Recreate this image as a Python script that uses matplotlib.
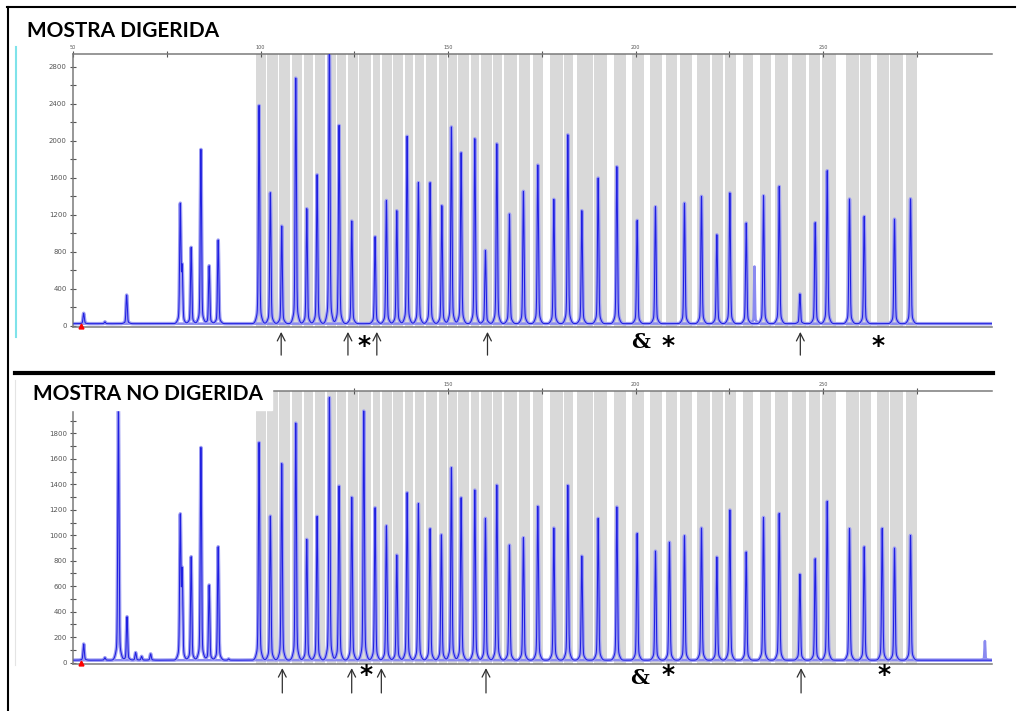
import numpy as np
import matplotlib
matplotlib.use('Agg')
from matplotlib import pyplot as plt
from matplotlib.patches import Rectangle
from matplotlib.lines import Line2D

# Electropherogram peaks: size (bp) and height (RFU)

# digested sample (top panel)
dig_pos = [52.85, 58.5, 64.3, 75.3, 78.6, 79.1, 81.5, 84.1, 86.3, 88.7, 94.8,
           99.60, 102.61, 105.65, 109.39, 112.32, 115.07, 118.35, 120.93, 124.32,
           130.53, 133.55, 136.32, 139.07, 142.08, 145.20, 148.32, 150.88, 153.47,
           157.12, 159.95, 162.99, 166.35, 170.08, 173.92, 178.19, 181.92, 185.65,
           190.00, 194.99, 200.40, 205.28, 213.01, 217.55, 221.65, 225.12, 229.47,
           234.08, 238.27, 243.79, 247.87, 251.07, 257.01, 260.93, 269.01,
           273.28]
dig_rfu = [132, 40, 330, 20, 1293, 600, 846, 1906, 647, 925, 20,
           2382, 1437, 1076, 2678, 1264, 1632, 3100, 2166, 1131,
           961, 1354, 1243, 2047, 1546, 1546, 1297, 2148, 1870,
           2021, 813, 1967, 1206, 1452, 1736, 1365, 2064, 1243,
           1596, 1718, 1138, 1286, 1325, 1398, 982, 1434, 1109,
           1405, 1506, 341, 1113, 1675, 1369, 1181, 1152,
           1372]
# pull-up spikes drawn only in the light colour
dig_pull_pos = [231.68]
dig_pull_rfu = [619]

# undigested sample (bottom panel)
undig_pos = [52.85, 58.5, 62.1, 64.4, 66.7, 68.3, 70.7, 75.3, 78.6, 79.1, 81.5,
             84.1, 86.3, 88.7, 91.5, 94.7,
             99.60, 102.61, 105.65, 109.39, 112.32, 115.07, 118.35, 120.93, 124.32,
             127.52, 130.53, 133.55, 136.32, 139.07, 142.08, 145.20, 148.21, 150.88,
             153.47, 157.12, 159.95, 162.99, 166.35, 170.08, 173.92, 178.19, 181.92,
             185.65, 190.00, 194.99, 200.40, 205.28, 209.01, 213.01, 217.55, 221.65,
             225.12, 229.47, 234.08, 238.27, 243.79, 247.87, 251.07, 257.01, 260.93,
             265.73, 269.01, 273.28]
undig_rfu = [147, 40, 1990, 361, 80, 50, 70, 20, 1133, 690, 832,
             1690, 610, 910, 30, 20,
             1729, 1151, 1562, 1881, 968, 1149, 2080, 1387, 1298,
             1975, 1216, 1075, 845, 1334, 1248, 1052, 1005, 1530,
             1295, 1355, 1133, 1394, 923, 981, 1227, 1057, 1392,
             837, 1133, 1222, 1015, 876, 945, 997, 1057, 829,
             1198, 869, 1141, 1172, 694, 816, 1266, 1052, 910,
             1054, 900, 1000]
undig_pull_pos = [293.1]
undig_pull_rfu = [150]

# grey bins (same in both panels), bp
bin_left = [98.7, 101.8, 104.9, 108.5, 111.6, 114.5, 117.7, 120.3, 123.3, 126.3,
            130.1, 132.3, 135.4, 138.5, 141.2, 144.1, 147.6, 150.1, 152.7, 156.2,
            158.7, 162.1, 165.0, 168.9, 172.6, 177.2, 180.9, 184.3, 188.9, 194.1,
            199.0, 203.7, 208.1, 211.7, 216.3, 220.4, 223.9, 228.6, 233.2, 237.2,
            241.7, 246.3, 249.6, 256.0, 259.8, 264.3, 267.9, 272.1]
bin_right = [101.5, 104.7, 107.9, 111.1, 114.0, 117.3, 120.1, 122.8, 125.9, 129.5,
             131.9, 135.0, 138.1, 140.7, 143.7, 147.0, 149.7, 152.5, 155.7, 158.3,
             161.7, 164.5, 168.3, 171.9, 175.4, 180.5, 183.4, 188.7, 192.3, 197.4,
             202.3, 207.0, 211.1, 215.0, 219.9, 223.4, 226.8, 231.3, 236.1, 240.5,
             245.3, 249.2, 253.3, 259.5, 262.7, 267.5, 271.2, 275.0]

# marks under each trace (bp)
dig_arrows = [105.5, 123.3, 131.0, 160.5, 243.9]
dig_stars = [127.6, 208.7, 264.6]
dig_amp = [201.2]
undig_arrows = [105.8, 124.3, 132.2, 160.1, 244.1]
undig_stars = [128.1, 208.7, 266.1]
undig_amp = [201.0]

size_ticks = [50, 100, 150, 200, 250]
dig_size_labels = ['50', '100', '150', '200', '250']
undig_size_labels = ['', '', '150', '200', '250']  # first two sit under the title box

W, H = 1022, 711
BASE = 20.0


def fx(px):
    return px / W


def fy(py):
    return 1 - py / H


size = np.linspace(50.2, 295, 16000)


def trace(pos, rfu, base=BASE, core=0.16):
    y = np.full_like(size, base)
    for p, h in zip(pos, rfu):
        d = size - p
        a = max(h - base, 0)
        y += a * (0.93 * np.exp(-0.5 * (d / core) ** 2) + 0.07 * np.exp(-0.5 * (d / 0.55) ** 2))
    return y


def panel(rect, pos, rfu, pull_pos, pull_rfu, labels, ylim, major, minor):
    ax = fig.add_axes(rect)
    ax.set_xlim(50, 295)
    ax.set_ylim(*ylim)
    for l, r in zip(bin_left, bin_right):
        ax.axvspan(l, r, color='#d9d9d9', lw=0, zorder=0)
    y = trace(pos, rfu)
    yp = trace(pull_pos, pull_rfu, base=0, core=0.1) + BASE
    ax.plot(size, yp, color='#8a8af0', lw=1.8, zorder=2)
    ax.plot(size, y, color='#9d9df2', lw=2.5, zorder=2)
    ax.plot(size, y, color='#2020e0', lw=0.75, zorder=3)
    ax.plot([52.2], [0], marker='^', color='red', ms=3.5, zorder=4, clip_on=False)
    for s in ['top', 'bottom', 'left']:
        ax.spines[s].set_color('#7a7a7a')
        ax.spines[s].set_linewidth(1.1)
    ax.spines['right'].set_visible(False)
    ax.xaxis.tick_top()
    ax.set_xticks(size_ticks)
    ax.set_xticklabels(labels)
    ax.set_xticks(np.arange(75, 290, 50), minor=True)
    ax.tick_params(axis='x', which='both', direction='inout', length=4, width=0.8,
                   color='#555555', labelsize=3.5, labelcolor='#555555', pad=1)
    ax.set_yticks(np.arange(0, ylim[1], major))
    ax.set_yticks(np.arange(0, ylim[1], minor), minor=True)
    ax.tick_params(axis='y', which='both', direction='inout', length=5, width=0.8,
                   color='#555555', labelsize=5, labelcolor='#555555', pad=2)
    return ax


def marks(ax, arrows, stars, amp, ya, ys, yamp):
    tr = ax.get_xaxis_transform()
    for p in arrows:
        ax.annotate('', xy=(p, ya[0]), xytext=(p, ya[1]), xycoords=tr, textcoords=tr,
                    arrowprops=dict(arrowstyle='->,head_length=0.55,head_width=0.28',
                                    lw=0.9, color='#303030', shrinkA=0, shrinkB=0),
                    annotation_clip=False)
    for p in stars:
        ax.text(p, ys, '*', transform=tr, ha='center', va='center', fontsize=18,
                fontweight='bold', clip_on=False)
    for p in amp:
        ax.text(p, yamp, '&', transform=tr, ha='center', va='center', fontsize=15,
                fontweight='heavy', family='DejaVu Serif', clip_on=False)


fig = plt.figure(figsize=(W / 100, H / 100), dpi=100)

ax1 = panel([fx(73), fy(327), fx(992) - fx(73), fy(54) - fy(327)],
            dig_pos, dig_rfu, dig_pull_pos, dig_pull_rfu, dig_size_labels,
            (-16, 2937), 400, 200)
marks(ax1, dig_arrows, dig_stars, dig_amp, (-0.018, -0.103), -0.07, -0.055)

ax2 = panel([fx(73), fy(664), fx(992) - fx(73), fy(390.7) - fy(664)],
            undig_pos, undig_rfu, undig_pull_pos, undig_pull_rfu, undig_size_labels,
            (-10, 2134), 200, 100)
marks(ax2, undig_arrows, undig_stars, undig_amp, (-0.015, -0.106), -0.04, -0.05)

# frame and separators
lines = [((8, 8), (7, 711), 'black', 1.5),
         ((7, 1015), (7, 7), 'black', 1.5),
         ((15, 993), (373, 373), 'black', 3.0),
         ((16, 16), (47, 337), '#7fe3ea', 1.5),
         ((15, 15), (380, 665), '#e4e4e4', 0.8)]
for xs, ys, c, lw in lines:
    fig.add_artist(Line2D([fx(xs[0]), fx(xs[1])], [fy(ys[0]), fy(ys[1])],
                          color=c, lw=lw, transform=fig.transFigure))

fig.add_artist(Rectangle((fx(28), fy(410)), fx(272) - fx(28), fy(383) - fy(410),
                         transform=fig.transFigure, color='white', zorder=5))

fig.text(fx(27), fy(36.7), 'MOSTRA DIGERIDA', family='Lato', fontweight='bold',
         fontsize=15, va='baseline', ha='left', zorder=6)
fig.text(fx(33), fy(400), 'MOSTRA NO DIGERIDA', family='Lato', fontweight='bold',
         fontsize=15, va='baseline', ha='left', zorder=6)

fig.savefig('out.png', dpi=100)
